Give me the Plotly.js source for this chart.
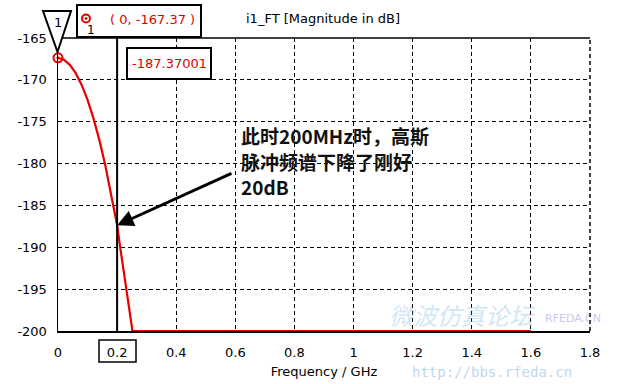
<!DOCTYPE html>
<html>
<head>
<meta charset="utf-8">
<script src="https://cdn.plot.ly/plotly-3.0.1.min.js"></script>
<style>
html,body{margin:0;padding:0;background:#fff;}
#chart{width:623px;height:384px;}
</style>
</head>
<body>
<div id="chart"></div>
<script>
// ---- data ----
const freqGHz = [0, 0.02, 0.04, 0.06, 0.08, 0.10, 0.12, 0.14, 0.16, 0.18, 0.20, 0.21, 0.22, 0.23, 0.24, 0.252, 1.6];
const magDB   = [-167.37, -167.6, -168.2, -169.2, -170.6, -172.4, -174.6, -177.2, -180.2, -183.6, -187.37, -189.9, -192.4, -194.8, -197.2, -200, -200];
const xTickVals = [0, 0.2, 0.4, 0.6, 0.8, 1.0, 1.2, 1.4, 1.6, 1.8];
const xTickText = ["0", "0.2", "0.4", "0.6", "0.8", "1", "1.2", "1.4", "1.6", "1.8"];
const yTickVals = [-200, -195, -190, -185, -180, -175, -170, -165];
const yTickText = ["-200", "-195", "-190", "-185", "-180", "-175", "-170", "-165"];
const marker1 = {x: 0, y: -167.37, label: "( 0, -167.37 )"};
const cursorX = 0.2;
const cursorY = -187.37001;
const cursorLabel = "-187.37001";
const titleText = "i1_FT [Magnitude in dB]";
const xTitle = "Frequency / GHz";
const noteLines = ["此时200MHz时，高斯", "脉冲频谱下降了刚好", "20dB"];
const watermark = ["微波仿真论坛", "http://bbs.rfeda.cn", "RFEDA.CN"];

// ---- layout geometry (pixels) ----
const W = 623, H = 384;
const L = 58, R = 590, T = 38, B = 331;
const px = x => (x - L) / (R - L);
const py = y => (B - y) / (B - T);
const font = "DejaVu Sans, Verdana, sans-serif";
const cjk = "Noto Sans CJK SC, sans-serif";
const red = "rgb(225,0,0)";

const traces = [
  {x: freqGHz, y: magDB, type: "scatter", mode: "lines",
   line: {color: "rgb(232,0,0)", width: 2.2}, hoverinfo: "skip"},
  {x: [cursorX, cursorX], y: [yTickVals[0], yTickVals[yTickVals.length-1]], type: "scatter", mode: "lines",
   line: {color: "#000", width: 2}, hoverinfo: "skip"},
  {x: [marker1.x], y: [marker1.y], type: "scatter", mode: "markers",
   marker: {symbol: "circle-dot", size: 9, color: "rgba(0,0,0,0)", line: {color: red, width: 2}},
   cliponaxis: false, hoverinfo: "skip"}
];

const shapes = [
  // frame top & right
  {type: "line", xref: "paper", yref: "paper", x0: 0, x1: 1, y0: 1, y1: 1, line: {color: "#000", width: 1.5}},
  {type: "line", xref: "paper", yref: "paper", x0: 1, x1: 1, y0: 0, y1: 1, line: {color: "#000", width: 1.5, dash: "4px,3px"}},
  // marker-1 triangle
  {type: "path", xref: "paper", yref: "paper",
   path: `M ${px(43)} ${py(11)} L ${px(71)} ${py(11)} L ${px(57.5)} ${py(52)} Z`,
   line: {color: "#000", width: 2}, fillcolor: "#fff"},
  // marker readout box
  {type: "rect", xref: "paper", yref: "paper", x0: px(77), x1: px(201), y0: py(37), y1: py(5),
   line: {color: "#000", width: 2}, fillcolor: "#fff"},
  // small marker icon in box
  {type: "circle", xref: "paper", yref: "paper", x0: px(82), x1: px(90), y0: py(22.5), y1: py(14.5),
   line: {color: red, width: 2}},
  {type: "circle", xref: "paper", yref: "paper", x0: px(85), x1: px(87), y0: py(19.5), y1: py(17.5),
   line: {color: red, width: 1}, fillcolor: red},
  // cursor value box
  {type: "rect", xref: "paper", yref: "paper", x0: px(127), x1: px(211), y0: py(79), y1: py(48),
   line: {color: "#000", width: 2}, fillcolor: "#fff"},
  // box round 0.2 tick label
  {type: "rect", xref: "paper", yref: "paper", x0: px(99), x1: px(136), y0: py(362), y1: py(340),
   line: {color: "#000", width: 1.5}}
];

function txt(text, x, y, size, color, family, anchor) {
  return {text: text, xref: "paper", yref: "paper", x: px(x), y: py(y),
          xanchor: anchor || "center", yanchor: "middle", showarrow: false, align: "left",
          font: {family: family || font, size: size, color: color || "#000"}};
}

const annotations = [
  txt(titleText, 323, 19, 13),
  txt("1", 57.5, 22, 13),
  txt("1", 91, 30, 12),
  txt(marker1.label, 152, 20, 13, red),
  txt(cursorLabel, 169, 63.5, 13, red),
  // arrow
  {x: cursorX, y: cursorY, xref: "x", yref: "y", ax: 0.592, ay: -181.1, axref: "x", ayref: "y",
   text: "", showarrow: true, arrowhead: 2, arrowsize: 1.1, arrowwidth: 3, arrowcolor: "#000", standoff: 0},
  // note lines
  txt("<b>" + noteLines[0] + "</b>", 239, 135.5, 19, "#111", cjk, "left"),
  txt("<b>" + noteLines[1] + "</b>", 239, 161, 19, "#111", cjk, "left"),
  txt("<b>" + noteLines[2] + "</b>", 239, 186.5, 19, "#111", cjk, "left"),
  // watermark (faint)
  txt("<i>" + watermark[0] + "</i>", 462, 314, 24, "rgba(140,190,230,0.4)", cjk),
  txt(watermark[1], 492, 372, 14, "rgba(130,180,225,0.55)", "DejaVu Sans Mono, monospace"),
  txt(watermark[2], 573, 318, 11, "rgba(150,140,220,0.5)")
];

const layout = {
  width: W, height: H,
  margin: {l: L, r: W - R, t: T, b: H - B, pad: 0},
  paper_bgcolor: "#fff", plot_bgcolor: "#fff",
  showlegend: false,
  xaxis: {
    range: [0, 1.8], tickmode: "array", tickvals: xTickVals, ticktext: xTickText,
    showgrid: true, gridcolor: "#000", gridwidth: 1, griddash: "4px,3px",
    zeroline: false, showline: true, linecolor: "#000", linewidth: 1.5,
    ticks: "", ticklabelstandoff: 9,
    tickfont: {family: font, size: 13, color: "#000"},
    title: {text: xTitle, font: {family: font, size: 13, color: "#000"}, standoff: 8}
  },
  yaxis: {
    range: [-200, -165], tickmode: "array", tickvals: yTickVals, ticktext: yTickText,
    showgrid: true, gridcolor: "#000", gridwidth: 1, griddash: "4px,3px",
    zeroline: false, showline: true, linecolor: "#000", linewidth: 1.5,
    ticks: "", ticklabelstandoff: 7,
    tickfont: {family: font, size: 13, color: "#000"}
  },
  shapes: shapes,
  annotations: annotations
};

Plotly.newPlot("chart", traces, layout, {displayModeBar: false, staticPlot: true});
</script>
</body>
</html>
